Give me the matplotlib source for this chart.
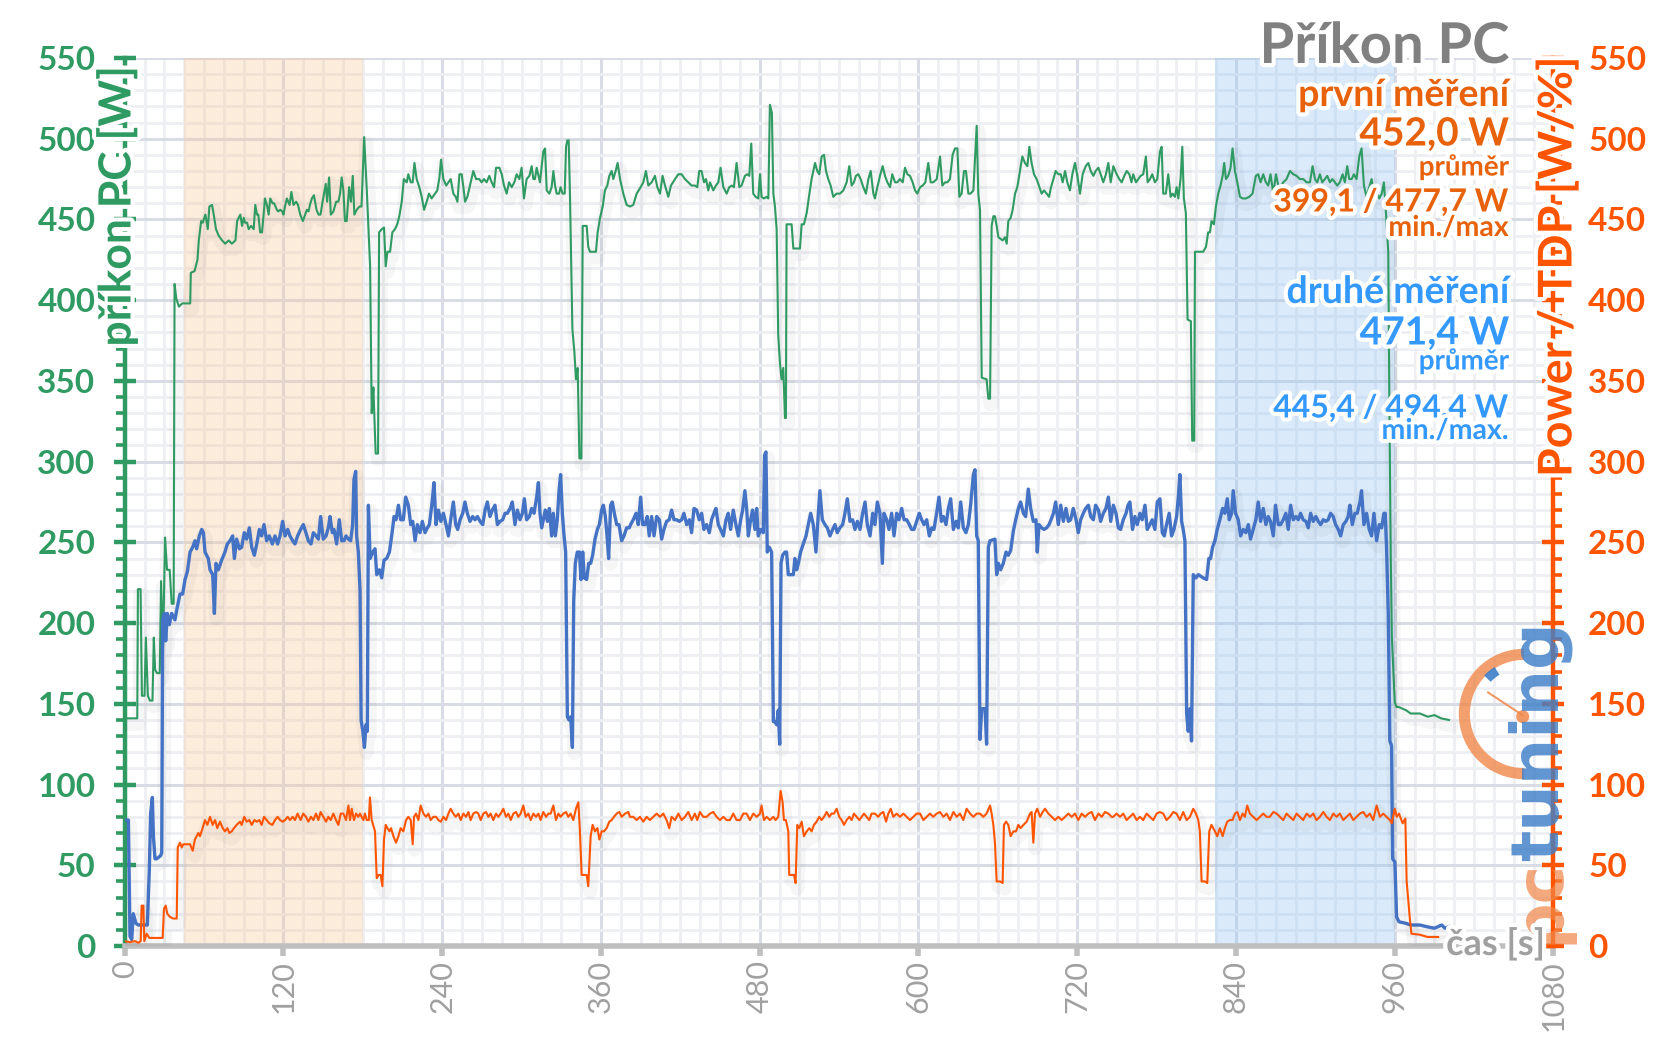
import matplotlib
matplotlib.use('Agg')
import matplotlib.pyplot as plt
import matplotlib.patheffects as pe
from matplotlib.ticker import MultipleLocator
from matplotlib.patches import Wedge, Circle
import numpy as np

plt.rcParams['font.family'] = ['Lato', 'DejaVu Sans']

# ---------------- data (time [s], power [W]) ----------------
GREEN = [(0,141),(2,141),(8,141),(9.5,141),(10,221),(12,221),(13,155),(15,155),(16,191),(17.5,155),(19,152),(21,152),(22,191),(23,171),(24.5,169),(26.5,169),(27.5,226),(29,185),(30.5,253),(32,233),(34,233),(35.5,212),(37,212),(37.7,410),(39,401),(41,396),(43.5,398),(49.5,398),(50,417),(52.8,418),(55,425),(56,437),(57.8,449),(59,448),(61,453),(62.8,444),(64,458),(66,459),(67.3,453),(69,444),(71,440),(73.6,437),(76,435),(78.6,437),(81,435),(83.7,437),(85,449),(87.4,453),(88.7,446),(90,451),(91,448),(92.5,448),(93.7,444),(95.5,446),(97.5,444),(98.7,459),(100,453),(101,453),(102.4,442),(103.8,442),(105,453),(106,463),(107.5,459),(108.8,453),(110,463),(111.8,460),(113,460),(115,456),(116,455),(117.6,456),(119,455),(120,453),(121.4,459),(122.6,463),(124.6,459),(126,467),(127.6,459),(129.6,461),(131,459),(132.7,453),(134.7,449),(136.4,453),(137.7,456),(139,455),(140,459),(141.5,463),(143,465),(145,456),(146.5,453),(148,453),(149,458),(150,463),(152,472),(153,461),(154.5,476),(155.8,453),(157.8,455),(159.8,461),(161.5,461),(162.8,466),(164,476),(165.3,468),(166.5,449),(167.8,449),(169.6,470),(171,461),(172.4,477),(173.6,453),(175.4,456),(177.4,458),(179,458),(181,501),(183,468),(185.5,421),(186.7,330),(188,346),(188.5,333),(189.7,305),(191.5,305),(192.3,442),(194.3,444),(196,445),(197.3,421),(198.6,430),(200.6,430),(202.3,442),(204.3,444),(206,447),(207.6,452),(209.4,461),(211,475),(213.2,473),(214.4,478),(216.2,473),(217.7,473),(219,485),(220.7,475),(222.7,470),(224.5,464),(226.3,456),(228.3,461),(230,466),(232,463),(234.6,466),(236.3,468),(237.9,476),(239.1,487),(240.9,475),(243,471),(244.7,473),(246.4,475),(248.4,466),(250.2,464),(251.5,461),(253,478),(254.7,478),(256,470),(257.3,461),(259,464),(261,471),(263.5,480),(265.6,475),(268,475),(269.8,473),(271.6,475),(273.6,473),(275.6,477),(277.4,473),(279.2,470),(280.7,482),(283.2,482),(285,478),(286.7,471),(288.7,466),(290.5,473),(292.5,470),(294.5,473),(296.3,478),(298.3,475),(300,482),(301.8,463),(303.8,475),(305.9,477),(307.6,483),(308.9,475),(310.1,475),(311.4,482),(313.9,473),(316.4,492),(317.7,494),(319,468),(321,466),(322.7,470),(324,480),(325.3,471),(326.5,466),(328.3,466),(329.5,470),(331,466),(332.6,466),(333.6,495),(334.6,499),(335.6,499),(336.6,464),(338.4,382),(339.9,368),(341.1,351),(342.4,358),(343.7,302),(345.2,302),(346.2,446),(347.4,446),(349.2,446),(350.4,433),(351.7,430),(356.2,430),(357.5,442),(359.3,451),(361.3,458),(363,468),(364.8,471),(366.3,477),(368.1,480),(369.3,475),(371.1,480),(372.6,485),(374.4,475),(376.9,466),(379.4,459),(382,458),(384.4,459),(387,466),(390,470),(392,473),(394,480),(395.8,471),(398.3,473),(400.8,477),(402.6,470),(404.6,466),(406.6,477),(408.4,471),(410.9,464),(412.9,471),(416,475),(418.5,478),(421,478),(423.5,475),(426,473),(428.5,471),(431,471),(432.8,470),(434.3,480),(436,480),(437.9,473),(439.4,475),(441.1,468),(442.4,473),(444.9,468),(446.9,471),(448.7,473),(450.4,482),(452.5,470),(455,466),(457,470),(458.8,471),(460.5,470),(462.5,485),(464.6,470),(466.3,471),(468.8,477),(470.6,478),(472.1,477),(473.6,497),(475.1,466),(476.9,464),(478.9,463),(480.2,478),(481.4,464),(483.2,463),(485.2,464),(486.5,463),(487.7,521),(489.2,516),(490.3,466),(491.5,458),(492.8,444),(494,378),(495.3,361),(496.5,351),(497.8,358),(499.1,327),(499.8,327),(500.3,447),(504.1,447),(505.4,432),(510.4,432),(511.7,447),(513.4,447),(515.5,454),(517.2,464),(519.2,475),(521.8,485),(523.5,480),(525,478),(526.8,489),(528.6,490),(530.1,480),(531.8,475),(533.6,471),(535.6,464),(538.1,466),(540.6,466),(543.2,468),(545.7,473),(547.7,483),(549.5,471),(551.2,473),(552.7,477),(554.5,478),(556.3,475),(558.3,470),(560.3,466),(562.1,475),(563.9,480),(565.9,466),(567.1,463),(568.9,470),(570.9,477),(572.9,483),(574.7,477),(576.5,473),(578.5,470),(580.2,478),(582.3,473),(584,473),(586,475),(588.1,473),(589.8,482),(591.6,478),(593.6,477),(595.6,473),(597.4,468),(599.1,466),(601.2,470),(603.2,471),(605.2,473),(607.4,485),(609.2,473),(611.2,473),(613.8,475),(616.3,489),(618,471),(620.1,473),(621.8,473),(623.8,475),(625.8,490),(627.6,494),(629.4,494),(630.9,464),(632.6,466),(634.4,480),(635.9,480),(637.7,466),(639.4,466),(641.5,468),(642.7,487),(644,508),(645.2,466),(646.5,456),(647.8,352),(651.5,351),(652.8,339),(654.1,339),(655.3,446),(656.6,452),(657.8,452),(659.1,446),(660.4,439),(663.6,437),(665.4,439),(666.7,435),(667.9,449),(669.7,451),(671.2,456),(673,466),(674.7,470),(676.7,480),(678.5,489),(680.5,485),(682.3,483),(683.8,495),(685.5,485),(687.3,478),(689.3,475),(691.4,470),(693.1,466),(694.9,468),(696.9,466),(698.7,464),(700.2,470),(702,475),(703.7,480),(705.7,478),(707.5,478),(709,473),(710.8,480),(712.5,473),(714.5,468),(716.3,478),(718.3,485),(720.1,477),(722.1,466),(724.1,478),(726.4,483),(728.4,485),(730.2,480),(732.2,477),(733.9,480),(736,482),(737.7,478),(739.7,473),(741.7,478),(743.5,485),(745.3,473),(747.3,483),(749.8,478),(751.8,475),(753.6,473),(755.6,477),(757.4,480),(759.4,478),(761,473),(762.3,478),(764.4,473),(766.1,475),(767.9,477),(769.9,478),(771.9,489),(773.2,473),(775,475),(776.7,478),(778.7,473),(780.5,475),(782.5,492),(783.8,495),(785,466),(787,466),(788.8,478),(790.6,464),(792.1,466),(793.8,464),(795.1,470),(796.4,463),(798.1,475),(799.4,495),(800.6,463),(802.1,454),(803.4,388),(805.9,387),(806.9,313),(808.4,313),(809,430),(815.2,430),(817.3,433),(819,442),(820.3,442),(821.5,449),(823.3,447),(824.8,458),(826.6,466),(828.3,471),(829.9,477),(831.1,485),(832.4,475),(834.1,477),(835.9,482),(837.4,494),(839.2,480),(841,473),(843,464),(845,463),(847.5,463),(850,464),(852.5,466),(855,477),(856.8,478),(858.6,473),(860.6,478),(862.6,473),(864.4,471),(866.1,478),(868.2,466),(870.2,478),(872,471),(873.7,470),(875.7,473),(878.2,475),(880.8,480),(883.3,478),(885.8,477),(888.3,475),(890.8,475),(893.4,473),(895.9,473),(897.9,483),(899.7,475),(901.4,473),(903.4,478),(905.2,473),(907.2,475),(909,477),(911,473),(912.8,475),(914.8,473),(916.5,471),(918.5,473),(920.6,478),(922.3,473),(924.1,483),(925.6,475),(927.4,475),(929.1,478),(931.1,475),(933.2,489),(934.9,494),(936.7,471),(938.7,464),(940.7,470),(942.5,475),(944.3,466),(946.3,468),(948.3,463),(950.2,466),(951.8,473),(953.3,455),(955.1,430),(956,330),(957,240),(957.8,192),(960,151),(961.4,148),(963,148),(968.6,146),(972,144),(979,144),(985,142),(990,143),(995,141),(1001,140)]

BLUE = [(0,78),(1.5,78),(2.8,78),(4,6),(5.3,4),(6.5,20),(8.5,14),(10.3,13),(14.1,13),(17.1,13),(18.6,47),(19.6,82),(20.9,92),(21.7,68),(22.9,54),(24.2,54),(27.2,56),(28,58),(28.7,202),(30,206),(31,189),(32.2,206),(33.7,199),(35.5,206),(38,202),(39.3,208),(41.8,218),(43.8,218),(45.6,227),(47.4,232),(49.4,244),(51.4,247),(53.1,251),(54.4,246),(56.4,254),(58.2,258),(59.5,256),(60.7,244),(63.2,240),(64.5,233),(66.5,230),(67.8,206),(69,237),(70.8,233),(73.3,239),(75.8,244),(77.6,249),(79.6,251),(81.6,254),(82.9,240),(84.6,252),(86.7,246),(88.4,247),(90.4,256),(92.2,252),(94.2,259),(96,247),(98,242),(99.8,249),(101.8,258),(103.5,254),(105.3,261),(107.3,251),(109.3,254),(111.6,249),(113.6,254),(115.6,249),(117.4,254),(119.4,263),(121.2,254),(123.2,258),(124.9,254),(127,251),(128.7,249),(130.7,254),(133,258),(135,261),(137,256),(138.8,251),(140.8,249),(142.6,256),(144.6,254),(146.4,252),(148.1,266),(150.1,252),(152.2,254),(153.9,259),(155.2,266),(156.9,256),(158.2,258),(160.2,249),(162.2,264),(164,251),(165.8,251),(167.3,254),(169.1,252),(170.8,251),(172.3,261),(173.3,289),(174.6,294),(175.3,254),(176.6,244),(177.9,220),(178.7,140),(180,133),(181.2,123),(182.4,137),(183.4,133),(184.2,273),(185.5,240),(187.5,244),(189.2,246),(190.5,230),(192.5,233),(194.3,228),(196,239),(198,240),(200.1,244),(201.8,254),(203.6,266),(205.1,264),(206.9,273),(208.6,264),(210.6,264),(212.4,278),(214.4,273),(216.2,261),(217.7,263),(219.5,251),(221.2,261),(223.2,256),(225,263),(227,256),(228.8,259),(230.3,261),(232.1,273),(233.8,287),(235.3,261),(237.1,270),(238.9,263),(240.9,268),(242.9,261),(244.7,254),(246.4,264),(248.4,275),(250.2,261),(251.7,258),(253.5,264),(255.5,268),(257.2,275),(259,268),(261,263),(263,266),(264.8,264),(266.6,266),(268.6,263),(270.6,261),(272.4,270),(274.1,275),(276.1,266),(277.9,270),(279.9,273),(281.7,261),(283.7,263),(285.7,264),(287.5,268),(289.2,268),(291.3,271),(293,275),(295,261),(296.8,270),(298.8,264),(300.6,268),(302.1,277),(303.8,264),(305.9,266),(307.6,271),(309.4,268),(311.4,278),(312.7,287),(313.9,268),(315.2,259),(316.4,264),(317.9,270),(319.5,263),(321,271),(322.7,254),(324,268),(325.5,254),(327,264),(328.3,282),(329.5,292),(330.8,268),(332.1,254),(333.3,244),(334.6,142),(335.8,140),(337.1,142),(338.4,123),(339.4,214),(340.6,237),(342.1,244),(343.7,244),(344.9,227),(346.2,244),(347.4,228),(349.2,227),(350.7,237),(352.2,237),(353.7,242),(355.5,252),(357.3,258),(358.8,261),(360.5,270),(361.8,273),(363.3,266),(364.6,254),(365.8,240),(367.3,273),(368.6,275),(370.1,268),(371.9,261),(373.6,261),(375.6,251),(377.4,254),(379.4,259),(381.4,259),(382.4,261),(384.4,264),(386.5,268),(388.2,261),(390,278),(391.5,261),(393.3,261),(395,266),(396.5,254),(398.3,266),(400.1,254),(402.1,266),(404.1,264),(405.9,252),(407.6,258),(409.6,263),(411.6,264),(413.4,270),(415.2,264),(417.2,264),(419.2,263),(421,264),(422.7,268),(424.8,261),(426.8,264),(428.5,256),(430.3,271),(432.3,270),(434.3,264),(436.1,268),(437.8,258),(439.9,261),(441.9,256),(443.6,264),(445.4,268),(446.9,271),(448.7,261),(450.4,258),(452.5,254),(454.5,264),(456.2,268),(458,258),(460,270),(462,261),(463.8,254),(465.6,264),(467.1,270),(468.8,282),(470.1,271),(471.4,254),(473.1,264),(474.6,270),(476.4,258),(477.7,271),(478.9,254),(480.7,258),(482.7,256),(483.7,304),(484.7,306),(485.7,244),(487.2,247),(489,244),(490.3,139),(491.5,139),(492.8,137),(494,146),(495.1,125),(496.1,237),(497.3,242),(499.1,244),(500.3,244),(501.6,230),(505.4,230),(506.6,240),(507.9,233),(509.2,237),(510.9,244),(512.9,249),(515,254),(516.7,261),(518.5,268),(520.5,261),(522.5,244),(524.3,268),(525.5,282),(527.3,264),(529.3,261),(531.1,259),(533.1,254),(535.1,258),(536.9,261),(538.6,256),(540.6,259),(542.7,261),(544.4,268),(546.2,277),(548.2,263),(550.2,264),(552,258),(553.8,263),(555.8,258),(557.8,268),(559.6,275),(561.3,261),(563.4,254),(565.4,268),(567.1,261),(568.9,275),(570.9,268),(572.7,237),(573.9,268),(576,264),(577.7,258),(579.7,268),(581.5,254),(583.5,268),(585.3,264),(587.3,271),(589.1,264),(591.1,264),(593.1,261),(594.8,258),(596.6,258),(598.6,263),(600.6,268),(602.4,264),(604.2,261),(606.2,264),(608.2,254),(610,259),(611.7,258),(613.7,268),(615.5,278),(617.3,263),(618.8,266),(620.8,261),(622.6,271),(624.3,277),(626.4,258),(628.4,263),(630.1,259),(631.9,275),(633.9,259),(635.9,256),(637.7,261),(639.4,273),(641.5,292),(642.7,295),(644,254),(645.2,251),(646.5,128),(647.8,147),(650.3,147),(651.5,125),(652.8,247),(654.1,251),(657.8,252),(659.1,230),(660.4,237),(662.1,233),(664.1,237),(666.2,244),(667.9,242),(669.7,245),(671.7,257),(673.5,264),(675.5,271),(677.2,275),(679.3,268),(681,266),(683,283),(684.8,271),(686.8,263),(688.8,264),(689.8,244),(691.1,261),(693.1,259),(694.9,258),(696.9,259),(698.7,261),(700.2,264),(702,268),(703.7,275),(705.7,261),(707.5,273),(709.5,263),(711.5,271),(713.3,263),(715,264),(717,271),(719.1,264),(720.8,256),(722.6,264),(724.6,268),(726.4,271),(728.4,273),(730.2,266),(732.2,264),(733.9,273),(736,270),(737.7,263),(739.7,268),(741.7,271),(743.5,278),(745.3,263),(747.3,273),(749.3,268),(751.1,259),(752.8,258),(754.8,264),(756.9,268),(758.4,273),(759.8,275),(761.8,258),(763.6,266),(765.4,261),(767.4,268),(769.1,264),(771.2,273),(772.9,258),(774.9,261),(776.7,264),(778.7,258),(780.5,275),(782.5,277),(784.3,256),(785.8,254),(787.5,261),(789.5,268),(791.3,254),(793.1,258),(795.1,266),(796.4,278),(797.6,292),(798.9,263),(800.1,258),(801.4,251),(802.7,144),(803.9,133),(805.2,147),(806.4,127),(807.7,230),(809.7,228),(811.5,230),(815.2,228),(817.8,227),(819.5,240),(820.8,240),(822.3,247),(824.1,251),(825.8,258),(827.8,264),(829.9,271),(831.6,268),(833.4,277),(834.9,264),(836.7,268),(837.9,282),(839.7,268),(841.7,264),(843.5,254),(845.5,258),(847.5,256),(849.3,261),(851,252),(853,258),(855,264),(856.8,275),(858.6,263),(860.6,271),(862.6,261),(864.4,266),(866.1,263),(868.2,254),(869.9,273),(872,261),(873.7,261),(875.7,264),(877.7,268),(879.5,258),(881.3,273),(883.3,264),(885.3,266),(887.1,264),(888.8,268),(890.8,264),(892.9,263),(894.6,259),(896.4,268),(898.4,263),(900.4,266),(902.2,263),(904,261),(906,264),(908,263),(909.7,264),(911.5,268),(913.5,266),(915.3,261),(917.3,258),(919.1,254),(921.1,261),(923.1,263),(924.8,266),(926.1,273),(927.9,261),(929.9,268),(931.6,268),(933.7,275),(934.9,282),(936.7,261),(938.7,268),(940.7,258),(942.5,254),(944.3,268),(946.3,251),(948.3,261),(950.1,259),(951.8,268),(952.8,268),(953.8,247),(955.1,206),(956.3,127),(957.6,124),(958.4,54),(960.1,52),(961.4,18),(963.2,15),(968.6,14),(972,13),(979,13),(984,12),(990,11),(995.5,13),(998,11),(1001,12)]

ORANGE = [(0,3),(4,2.4),(7.8,3),(10.3,2),(12.1,3),(12.8,25),(14.1,25),(14.8,3),(16.6,7.6),(18.6,5),(20.4,5),(24.2,5),(28.7,5),(29.7,23),(31,25),(32.2,20),(34.2,18),(36.8,17),(39.3,17),(40.1,61),(41.8,64),(43.1,61),(44.3,63),(46.8,63),(49.4,63),(51.4,59),(53.1,66),(55.7,70),(56.9,68),(58.9,73),(60.7,78),(62.5,75),(64.5,80),(66.5,75),(68.3,78),(70,73),(72,77),(74.1,73),(75.8,71),(77.6,73),(79.1,70),(80.9,71),(82.6,73),(84.6,75),(87.2,77),(88.4,75),(90.4,80),(92.2,77),(94.2,78),(96,75),(98,78),(99.8,77),(101.8,78),(103.5,75),(105.3,80),(107.3,78),(109.3,76),(111.6,75),(113.6,78),(115.6,80),(117.4,78),(119.4,77),(121.2,78),(123.2,80),(124.9,78),(127,80),(128.7,78),(130.7,82),(133,78),(135,82),(137,80),(138.8,77),(140.8,80),(142.6,78),(144.6,82),(146.4,78),(148.1,83),(150.1,80),(152.2,77),(153.9,80),(155.7,78),(157.7,82),(159.7,78),(161.5,75),(163.3,82),(165.3,82),(167.3,78),(169.1,87),(170.3,78),(171.6,85),(173.3,78),(174.9,82),(176.6,80),(177.9,82),(179.1,80),(180.4,78),(181.6,82),(182.9,78),(184.5,78),(185.4,92),(186.7,78),(189.2,71),(190.5,42),(191.8,44),(193.5,44),(194.8,37),(196,66),(197.3,75),(198.6,73),(200.1,71),(201.3,73),(203.1,68),(205.1,64),(206.9,68),(208.6,73),(210.6,71),(212.7,78),(214.4,80),(216.2,78),(217.7,63),(218.7,80),(220.2,82),(222,78),(223.7,87),(225.8,82),(227.8,80),(229.5,82),(231.3,78),(233.3,80),(235.3,80),(237.1,78),(238.9,77),(240.9,80),(242.9,78),(244.7,82),(246.4,85),(248.4,82),(250.2,80),(252.2,82),(254,78),(256,82),(258,80),(259.8,83),(261.5,78),(263.5,82),(265.6,83),(267.3,82),(269.1,78),(271.1,82),(273.1,83),(274.9,80),(276.6,82),(278.6,78),(280.7,82),(282.4,80),(284.2,82),(286.2,85),(288.2,80),(290,82),(291.8,78),(293.8,82),(295.8,83),(297.5,80),(299.3,82),(301.3,87),(303.1,80),(305.1,82),(306.9,78),(308.9,82),(310.9,80),(312.7,82),(314.4,78),(316.4,83),(318.5,80),(320.2,82),(322,82),(324,87),(326,78),(327.8,82),(329.5,80),(331.6,82),(333.6,83),(335.3,80),(337.1,82),(339.1,78),(341.1,85),(342.9,89),(344.1,71),(345.4,44),(347.2,44),(349.2,44),(350.4,37),(352.2,68),(353.7,75),(355.5,71),(357.3,73),(358.8,66),(360.5,71),(362.3,71),(364.3,73),(366.3,77),(368.1,78),(369.8,80),(371.9,82),(373.9,83),(375.6,80),(378.2,82),(380.7,83),(381.9,80),(384.4,80),(387,78),(389.5,80),(392,77),(394.5,80),(397,78),(399.6,80),(402.1,82),(404.6,80),(407.1,82),(409.6,78),(411.6,73),(413.4,80),(416,78),(418.5,82),(421,78),(423.5,80),(426,83),(428.5,78),(431,82),(432.8,78),(434.8,83),(437.3,80),(439.9,80),(442.4,82),(444.9,83),(447.4,80),(449.9,78),(452.5,80),(455,78),(457.5,78),(460,82),(462.5,78),(465.1,78),(467.6,82),(470.1,82),(472.6,78),(475.1,82),(477.7,80),(480.2,82),(481.4,87),(483.2,78),(485.2,80),(487.7,78),(490.3,80),(492,78),(494,80),(495.8,96),(497.3,89),(498.3,78),(499.8,78),(501.6,71),(502.3,44),(504.1,44),(505.9,44),(507.1,39),(508.4,75),(509.9,73),(511.7,77),(513.4,68),(515.5,71),(517.5,73),(519.2,71),(521,75),(523,77),(525,80),(526.8,78),(528.6,80),(530.6,83),(532.6,80),(534.3,82),(536.1,82),(538.1,85),(540.1,80),(541.9,78),(543.7,75),(545.7,78),(547.7,80),(549.5,78),(551.2,82),(553.2,80),(555.3,78),(557,80),(558.8,82),(560.8,80),(562.8,78),(564.6,82),(567.1,82),(569.6,80),(571.4,82),(573.4,83),(575.5,77),(577.2,82),(579,85),(581,80),(583.5,82),(586,80),(588.6,82),(591.1,80),(593.6,78),(596.1,80),(598.6,82),(601.2,82),(603.7,78),(606.2,80),(608.7,82),(611.2,80),(613.7,82),(616.3,83),(618.8,80),(621.3,82),(623.8,78),(626.4,83),(628.9,80),(631.4,82),(633.9,78),(636.4,85),(639,82),(641.5,80),(644,82),(646.5,82),(649,80),(651.5,82),(654.1,87),(655.3,82),(656.6,75),(657.8,64),(659.1,40),(661.6,40),(663.6,39),(664.6,75),(666.2,77),(667.9,75),(669.7,68),(671.7,71),(673.7,71),(675.5,75),(677.2,73),(679.3,75),(681.8,77),(684.3,82),(685.5,83),(686.8,64),(688.1,82),(689.8,85),(691.9,80),(693.9,83),(695.6,85),(698.2,82),(700.7,80),(703.2,78),(705.7,80),(708.2,78),(710.8,80),(713.3,82),(715.8,80),(718.3,82),(720.8,78),(723.4,82),(725.9,80),(728.4,82),(730.9,83),(733.4,78),(736,82),(738.5,80),(741,83),(743.5,82),(746,80),(747.2,80),(749.7,82),(752.3,80),(754.8,82),(757.3,78),(759.8,80),(762.3,82),(764.9,78),(767.4,80),(769.9,78),(772.4,82),(774.9,80),(777.5,78),(780,82),(782.5,83),(785,82),(787.5,78),(790,80),(792.6,83),(795.1,82),(797.6,78),(800.1,83),(802.7,78),(805.2,80),(807.7,85),(809.7,82),(811.5,78),(812.7,71),(814,40),(816.5,40),(818.3,39),(819.8,71),(821.5,75),(824.1,71),(825.8,68),(827.8,73),(829.9,68),(831.6,73),(833.4,77),(835.4,78),(837.4,78),(839.2,82),(841,83),(843,78),(845,82),(846.7,80),(848.5,87),(850.5,82),(853,80),(855.6,78),(858.1,80),(860.6,82),(863.1,80),(865.6,80),(868.2,83),(870.7,82),(873.2,80),(875.7,78),(878.2,82),(880.8,80),(883.3,78),(885.8,82),(888.3,80),(890.8,78),(893.4,82),(895.9,80),(898.4,82),(900.9,78),(903.4,80),(906,83),(908.5,80),(911,78),(913.5,82),(916,80),(918.5,82),(921.1,78),(923.6,80),(926.1,82),(928.6,78),(931.1,80),(933.7,82),(936.2,83),(938.7,80),(941.2,82),(943.7,78),(946.3,87),(948.8,80),(951.3,82),(953.8,80),(956.3,78),(957.8,76),(960,85),(961.5,80),(963.2,82),(966,76),(968,79),(969,40),(971.3,18),(972.6,7.6),(979,7),(984.7,5.6),(992.8,5.6)]

SPAN_FIRST = (44.5, 180.5)
SPAN_SECOND = (824.0, 960.0)

X_TICKS = [0, 120, 240, 360, 480, 600, 720, 840, 960, 1080]
Y_TICKS = [0, 50, 100, 150, 200, 250, 300, 350, 400, 450, 500, 550]

TITLE = 'Příkon PC'
LEFT_LABEL = 'příkon PC [W]'
RIGHT_LABEL = 'Power / TDP [W/%]'
X_LABEL = 'čas [s]'
FIRST_TXT = ['první měření', '452,0 W', 'průměr', '399,1 / 477,7 W', 'min./max']
SECOND_TXT = ['druhé měření', '471,4 W', 'průměr', '445,4 / 494,4 W', 'min./max.']

# ---------------- styling ----------------
C_GREEN = '#2F9A62'
C_BLUE = '#4472C4'
C_ORANGE = '#FF5500'
C_TXT_OR = '#E8620C'
C_TXT_BL = '#3399FF'
C_GRAY = '#A0A0A0'

W, H = 1657, 1044
fig = plt.figure(figsize=(W / 100, H / 100), dpi=100)
fig.patch.set_facecolor('white')

def fx(x):
    return x / W

def fy(y):
    return 1 - y / H

L, R, T, B = 124.7, 1553.5, 58, 946
ax = fig.add_axes([fx(L), fy(B), (R - L) / W, (B - T) / H])
ax.set_xlim(0, 1080)
ax.set_ylim(0, 550)
ax.set_axisbelow(True)

ax.xaxis.set_major_locator(MultipleLocator(120))
ax.xaxis.set_minor_locator(MultipleLocator(15))
ax.yaxis.set_major_locator(MultipleLocator(50))
ax.yaxis.set_minor_locator(MultipleLocator(10))
ax.grid(True, which='major', color='#D9DCE4', lw=2.2, zorder=0)
ax.grid(True, which='minor', color='#EDEFF3', lw=2.0, zorder=0)

ax.axvspan(*SPAN_FIRST, color='#F9C89B', alpha=0.34, lw=0, zorder=1)
ax.axvspan(*SPAN_SECOND, color='#8DC0F2', alpha=0.32, lw=0, zorder=1)

shadow = [pe.SimpleLineShadow(offset=(1.5, -4), shadow_color='#555555', alpha=0.05, linewidth=10), pe.Normal()]

gt, gv = zip(*GREEN)
bt, bv = zip(*BLUE)
ot, ov = zip(*ORANGE)
ax.plot(gt, gv, color=C_GREEN, lw=1.5, zorder=3, path_effects=shadow)
ax.plot(bt, bv, color=C_BLUE, lw=2.4, zorder=3, path_effects=shadow)
ax.plot(ot, ov, color=C_ORANGE, lw=1.5, zorder=3, path_effects=shadow)

for s in ['top', 'right']:
    ax.spines[s].set_visible(False)
ax.spines['left'].set_color(C_GREEN)
ax.spines['left'].set_linewidth(3.2)
ax.spines['bottom'].set_color('#BFBFBF')
ax.spines['bottom'].set_linewidth(4)

ax.set_xticks(X_TICKS)
ax.set_yticks(Y_TICKS)
ax.tick_params(axis='x', which='major', direction='out', length=7, width=4, color='#BFBFBF',
               labelsize=22, labelcolor=C_GRAY, labelrotation=90, pad=3)
ax.tick_params(axis='x', which='minor', length=0)
ax.tick_params(axis='y', which='major', direction='inout', length=16, width=3.2, color=C_GREEN,
               labelsize=24, labelcolor=C_GREEN, pad=13)
ax.tick_params(axis='y', which='minor', direction='out', length=6.5, width=2.6, color=C_GREEN)
for lab in ax.get_yticklabels():
    lab.set_fontweight('bold')

ax2 = ax.twinx()
ax2.set_ylim(0, 550)
ax2.set_yticks(Y_TICKS)
ax2.yaxis.set_minor_locator(MultipleLocator(10))
for s in ['top', 'left', 'bottom']:
    ax2.spines[s].set_visible(False)
ax2.spines['right'].set_color(C_ORANGE)
ax2.spines['right'].set_linewidth(3.2)
ax2.tick_params(axis='y', which='major', direction='inout', length=16, width=3.2, color=C_ORANGE,
                labelsize=24, labelcolor=C_ORANGE, pad=17)
ax2.tick_params(axis='y', which='minor', direction='out', length=6.5, width=2.6, color=C_ORANGE)
for lab in ax2.get_yticklabels():
    lab.set_fontweight('bold')

glow = [pe.withStroke(linewidth=6, foreground='white')]

fig.text(fx(117), fy(206), LEFT_LABEL, rotation=90, ha='center', va='center', fontsize=32,
         fontweight='bold', color=C_GREEN, path_effects=glow)
fig.text(fx(1557), fy(267), RIGHT_LABEL, rotation=90, ha='center', va='center', fontsize=33.5,
         fontweight='bold', color=C_ORANGE, path_effects=glow)

# ---------------- logo watermark ----------------
lax = fig.add_axes([fx(1524 - 75), fy(714 + 75), 150 / W, 150 / H])
lax.set_xlim(-1.15, 1.15)
lax.set_ylim(-1.15, 1.15)
lax.set_aspect('equal')
lax.axis('off')
lax.patch.set_alpha(0)
lax.add_patch(Wedge((0, 0), 1.0, 90, 270, width=0.17, color='#F0874A', alpha=0.8, lw=0))
lax.add_patch(Wedge((0, 0), 0.85, 122, 136, width=0.14, color='#3F7FC8', alpha=0.9, lw=0))
lax.plot([-0.55, -0.02], [0.33, -0.02], color='#F0874A', lw=1.5, alpha=0.85)
lax.add_patch(Circle((-0.02, -0.04), 0.1, color='#F0874A', alpha=0.85, lw=0))

pc = fig.text(fx(1540), fy(944), 'pc', rotation=90, ha='center', va='bottom', fontsize=47,
              fontweight='bold', family='DejaVu Sans', color='#F0874A', alpha=0.72)
fig.canvas.draw()
bb = pc.get_window_extent()
tn = fig.text(fx(1540), bb.y1 / H - 0.002, 'tuning', rotation=90, ha='center', va='bottom',
              fontsize=47, fontweight='bold', family='DejaVu Sans', color='#3F7FC8', alpha=0.82)

fig.text(fx(1545), fy(944), X_LABEL, ha='right', va='center', fontsize=26,
         fontweight='bold', color=C_GRAY, path_effects=glow)

XR = fx(1509)
fig.text(XR, fy(47), TITLE, ha='right', va='center', fontsize=40.5, fontweight='bold',
         color='#808080', path_effects=glow)
sizes1 = [27, 28, 20, 23, 20.5]
sizes2 = [27, 28, 20, 23, 20.5]
ys1 = [95, 134, 167, 202, 228]
ys2 = [292, 333, 361, 408, 431]
for txt, s, y in zip(FIRST_TXT, sizes1, ys1):
    fig.text(XR, fy(y), txt, ha='right', va='center', fontsize=s, fontweight='bold',
             color=C_TXT_OR, path_effects=glow)
for txt, s, y in zip(SECOND_TXT, sizes2, ys2):
    fig.text(XR, fy(y), txt, ha='right', va='center', fontsize=s, fontweight='bold',
             color=C_TXT_BL, path_effects=glow)

fig.savefig('out.png', dpi=100, facecolor='white')
